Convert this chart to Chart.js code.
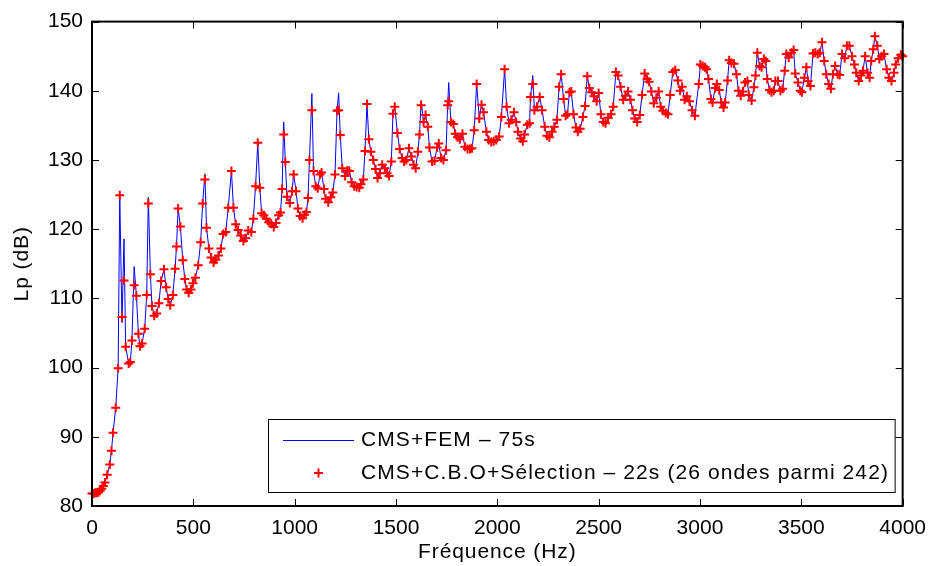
<!DOCTYPE html>
<html>
<head>
<meta charset="utf-8">
<script src="https://cdn.jsdelivr.net/npm/chart.js@4.4.0/dist/chart.umd.min.js"></script>
<style>
  html, body { margin: 0; padding: 0; background: #fff; }
</style>
</head>
<body>
<canvas id="lpChart" width="936" height="566"></canvas>
<script>
// frequencies (Hz) of the computed points
const freqHz = [
  0, 8, 16, 24, 32, 40, 48, 56, 64, 75, 88, 96, 104, 117, 129,
  137, 148, 158, 166, 181, 189, 197, 208, 219, 229, 237, 247, 260, 270,
  278, 288, 296, 307, 319, 330, 341, 355, 366, 376, 386, 399,
  410, 417, 425, 436, 448, 458, 467, 477, 488, 498, 510, 524, 536, 546,
  557, 565, 577, 588, 600, 611, 624, 636, 647, 660, 672, 688,
  698, 709, 721, 734, 747, 758, 771, 786, 796, 807, 818,
  828, 837, 848, 860, 872, 884, 897, 908, 921, 930, 938, 946,
  954, 962, 976, 987, 995, 1007, 1016, 1027, 1039, 1049, 1058, 1066, 1073, 1085,
  1093, 1104, 1114, 1125, 1133, 1145, 1153, 1166, 1178, 1188, 1199, 1209, 1217,
  1225, 1235, 1249, 1260, 1270, 1281, 1294, 1306, 1319, 1327, 1339, 1347, 1357,
  1366, 1376, 1388, 1399, 1409, 1420, 1432, 1445, 1456, 1466, 1477, 1485, 1494,
  1507, 1518, 1530, 1540, 1551, 1564, 1576, 1587, 1597, 1608, 1616, 1624,
  1636, 1646, 1657, 1665, 1678, 1690, 1703, 1711, 1722, 1734, 1747, 1755, 1760,
  1771, 1783, 1792, 1804, 1815, 1828, 1840, 1853, 1865, 1875, 1886, 1898,
  1911, 1922, 1932, 1946, 1957, 1970, 1982, 1995, 2009, 2020, 2036,
  2046, 2058, 2069, 2082, 2093, 2102, 2115, 2126, 2134, 2148, 2159, 2164, 2175,
  2183, 2196, 2209, 2221, 2234, 2245, 2257, 2270, 2281, 2294, 2305, 2315,
  2327, 2337, 2346, 2356, 2365, 2376, 2388, 2397, 2409, 2422, 2433, 2444,
  2454, 2466, 2477, 2490, 2500, 2511, 2523, 2534, 2547, 2561, 2572, 2585,
  2596, 2608, 2621, 2632, 2645, 2657, 2667, 2678, 2690, 2703, 2714, 2727,
  2739, 2749, 2760, 2772, 2785, 2796, 2806, 2817, 2831, 2842, 2853, 2866, 2878,
  2891, 2902, 2912, 2924, 2935, 2948, 2961, 2975, 2994, 3002,
  3013, 3025, 3033, 3042, 3054, 3062, 3075, 3083, 3095, 3105, 3116, 3124, 3136, 3144,
  3155, 3168, 3180, 3190, 3201, 3212, 3222, 3234, 3241, 3255, 3266, 3274, 3283,
  3294, 3304, 3315, 3324, 3332, 3343, 3353, 3364, 3372, 3385, 3397, 3408, 3418, 3426,
  3438, 3451, 3462, 3470, 3484, 3495, 3503, 3515, 3525, 3533, 3545, 3558, 3569,
  3581, 3591, 3602, 3613, 3623, 3635, 3646, 3656, 3667, 3679, 3689, 3701, 3714,
  3725, 3737, 3750, 3762, 3771, 3783, 3794, 3804, 3815, 3827, 3837, 3845, 3855,
  3863, 3875, 3885, 3896, 3908, 3921, 3932, 3945, 3957, 3966, 3978, 3991, 4000
];

// Lp (dB), CMS+C.B.O+Sélection (red crosses)
const lpCbo = [
  81.8, 81.8, 81.9, 81.9, 82.0, 82.2, 82.5, 82.9, 83.4, 84.5, 86.0, 88.0, 90.6, 94.2, 99.9,
  124.9, 107.3, 112.6, 103.0, 100.6, 100.8, 103.9, 111.9, 110.4, 104.9, 103.1, 103.5, 105.6, 110.5,
  123.7, 113.5, 108.9, 107.5, 107.8, 109.3, 112.5, 114.2, 111.6, 109.9, 109.0, 110.5,
  114.3, 117.5, 123.0, 120.4, 115.5, 112.8, 111.3, 110.8, 111.3, 112.2, 113.0, 114.8, 118.1, 123.7,
  127.2, 120.2, 117.2, 115.9, 115.2, 115.6, 116.2, 117.2, 119.3, 119.6, 123.1, 128.4,
  123.1, 120.7, 119.9, 119.1, 118.3, 118.7, 119.8, 119.6, 121.5, 126.2, 132.5,
  126.0, 122.3, 122.0, 121.5, 121.0, 120.8, 120.3, 120.9, 122.0, 122.4, 125.8, 133.7,
  129.7, 124.7, 123.8, 125.5, 127.9, 125.5, 123.0, 121.9, 121.6, 122.1, 122.5, 124.5, 130.0, 137.2,
  128.4, 126.2, 125.9, 127.9, 128.2, 125.8, 124.4, 123.9, 124.6, 125.3, 127.9, 137.1, 137.2,
  133.6, 128.8, 127.7, 128.5, 128.4, 126.8, 126.2, 126.1, 126.0, 126.5, 127.2, 131.3, 138.1,
  133.0, 131.2, 130.0, 128.7, 127.4, 128.1, 129.3, 128.8, 128.1, 127.7, 129.8, 136.7, 137.7,
  133.9, 131.6, 130.3, 129.8, 130.0, 131.7, 130.5, 129.3, 128.8, 131.2, 133.7, 137.9,
  135.5, 136.5, 134.8, 131.8, 129.8, 129.9, 131.8, 132.4, 130.3, 130.0, 131.4, 137.9, 138.5,
  135.5, 135.2, 133.8, 133.3, 133.0, 133.8, 131.9, 131.6, 131.6, 131.7, 134.3, 141.0,
  136.0, 138.0, 136.9, 134.1, 132.9, 132.6, 132.7, 132.9, 133.4, 136.2, 143.1,
  137.7, 135.3, 135.8, 136.9, 135.5, 134.1, 133.1, 132.7, 133.7, 135.1, 135.3, 139.1, 141.0,
  137.2, 137.7, 139.1, 137.2, 134.8, 133.5, 133.3, 134.1, 134.8, 135.8, 140.6, 142.4,
  138.8, 136.4, 136.6, 139.8, 139.9, 136.6, 134.7, 134.1, 134.5, 136.2, 137.8, 142.1,
  140.4, 139.8, 139.2, 138.5, 139.7, 136.6, 135.5, 135.3, 136.1, 136.6, 137.7, 142.7,
  142.2, 140.6, 138.7, 139.3, 139.9, 138.7, 137.2, 136.0, 135.5, 136.5, 139.4, 142.5,
  141.7, 141.3, 139.9, 138.2, 139.0, 139.9, 137.7, 137.1, 136.8, 136.6, 139.4, 142.7, 143.0,
  141.5, 140.0, 140.6, 138.7, 139.2, 138.5, 137.2, 136.4, 141.0, 143.8,
  143.6, 143.4, 143.1, 141.7, 138.8, 138.3, 140.4, 141.0, 140.1, 138.3, 137.6, 138.3, 141.5, 144.4,
  144.0, 143.9, 142.4, 140.0, 139.3, 139.9, 141.2, 141.4, 139.4, 138.6, 140.5, 142.2, 145.5,
  143.6, 143.4, 144.6, 144.3, 141.7, 140.1, 139.8, 140.0, 141.4, 141.4, 140.0, 140.3, 142.9, 145.3,
  144.8, 145.5, 145.9, 142.5, 141.2, 140.0, 139.8, 141.9, 143.4, 141.4, 140.7, 145.4, 145.5,
  145.3, 145.5, 147.0, 144.3, 142.4, 141.0, 140.3, 142.4, 143.6, 142.4, 142.3, 145.3, 144.7,
  146.5, 146.5, 145.0, 143.8, 142.6, 141.4, 142.2, 142.9, 145.0, 142.6, 141.9, 144.3, 146.0,
  147.9, 146.5, 144.6, 145.0, 145.3, 143.1, 141.9, 141.4, 142.6, 143.8, 144.7, 145.2, 145.0
];

// CMS+FEM (blue line) follows the crosses except at these sharper peaks
const femPeakFreq = [148, 158, 208, 278, 557, 946, 1085, 1217, 1624, 1760, 2175];
const femPeakLp = [106.5, 118.6, 114.6, 124.6, 128.0, 135.5, 139.6, 139.7, 138.6, 141.2, 142.2];

const seriesLabels = ['CMS+FEM – 75s', 'CMS+C.B.O+Sélection – 22s (26 ondes parmi 242)'];
const xTitle = 'Fréquence (Hz)';
const yTitle = 'Lp (dB)';

const fontFamily = '"Liberation Sans", Arial, sans-serif';
Chart.defaults.color = '#000';
Chart.defaults.font.family = fontFamily;
Chart.defaults.font.size = 21;

const cboPoints = freqHz.map((f, i) => ({ x: f, y: lpCbo[i] }));
const femPoints = cboPoints.map((p) => {
    const k = femPeakFreq.indexOf(p.x);
    return k >= 0 ? { x: p.x, y: femPeakLp[k] } : p;
});

// matlab-like box with inward ticks, axis titles and the legend
const matlabAxes = {
    id: 'matlabAxes',
    afterDraw(chart) {
        const { ctx, chartArea: a, scales } = chart;
        const x = scales.x;
        const y = scales.y;
        ctx.save();
        ctx.strokeStyle = '#000';
        ctx.lineWidth = 1;
        ctx.beginPath();
        x.ticks.forEach((t) => {
            const px = Math.round(x.getPixelForValue(t.value)) + 0.5;
            ctx.moveTo(px, a.bottom);
            ctx.lineTo(px, a.bottom - 7);
            ctx.moveTo(px, a.top);
            ctx.lineTo(px, a.top + 7);
        });
        y.ticks.forEach((t) => {
            const py = Math.round(y.getPixelForValue(t.value)) + 0.5;
            ctx.moveTo(a.left, py);
            ctx.lineTo(a.left + 7, py);
            ctx.moveTo(a.right, py);
            ctx.lineTo(a.right - 7, py);
        });
        ctx.stroke();
        ctx.lineWidth = 2;
        ctx.strokeRect(a.left, a.top, a.right - a.left, a.bottom - a.top);

        // axis titles
        ctx.fillStyle = '#000';
        ctx.font = '21px ' + fontFamily;
        ctx.letterSpacing = '0.9px';
        ctx.textAlign = 'center';
        ctx.textBaseline = 'middle';
        ctx.fillText(xTitle, (a.left + a.right) / 2, 552);
        ctx.save();
        ctx.translate(22, (a.top + a.bottom) / 2);
        ctx.rotate(-Math.PI / 2);
        ctx.fillText(yTitle, 0, 0);
        ctx.restore();

        // legend
        const right = a.right - 8;
        const bottom = a.bottom - 14;
        const left = 268;
        const top = 419;
        ctx.fillStyle = '#fff';
        ctx.fillRect(left, top, right - left, bottom - top);
        ctx.lineWidth = 1;
        ctx.strokeRect(left + 0.5, top + 0.5, right - left, bottom - top);

        const row1 = top + 21;
        const row2 = top + 54;
        ctx.strokeStyle = '#0000ff';
        ctx.beginPath();
        ctx.moveTo(283, row1 + 0.5);
        ctx.lineTo(354, row1 + 0.5);
        ctx.stroke();

        ctx.strokeStyle = '#ff0000';
        ctx.lineWidth = 2;
        ctx.beginPath();
        ctx.moveTo(314, row2);
        ctx.lineTo(323, row2);
        ctx.moveTo(318.5, row2 - 4.5);
        ctx.lineTo(318.5, row2 + 4.5);
        ctx.stroke();

        ctx.fillStyle = '#000';
        ctx.letterSpacing = '1.1px';
        ctx.textAlign = 'left';
        ctx.fillText(seriesLabels[0], 361, row1);
        ctx.fillText(seriesLabels[1], 361, row2);
        ctx.restore();
    },
};

new Chart(document.getElementById('lpChart'), {
    type: 'scatter',
    data: {
        datasets: [
            {
                label: seriesLabels[1],
                data: cboPoints,
                showLine: false,
                pointStyle: 'cross',
                pointRadius: 4.5,
                pointBorderWidth: 2,
                borderColor: '#ff0000',
                backgroundColor: '#ff0000',
                clip: false,
                order: 0,
            },
            {
                label: seriesLabels[0],
                data: femPoints,
                showLine: true,
                borderColor: '#0000ff',
                borderWidth: 1,
                pointRadius: 0,
                tension: 0,
                order: 1,
            },
        ],
    },
    options: {
        responsive: false,
        animation: false,
        devicePixelRatio: 1,
        layout: { padding: { top: 19, right: 30, left: 0, bottom: 0 } },
        plugins: {
            legend: { display: false },
            tooltip: { enabled: false },
        },
        scales: {
            x: {
                type: 'linear',
                min: 0,
                max: 4000,
                grid: { display: false, drawTicks: false },
                border: { display: false },
                ticks: { stepSize: 500, padding: 10, maxRotation: 0, callback: (v) => String(v) },
                afterFit: (scale) => { scale.height = 60; },
            },
            y: {
                min: 80,
                max: 150,
                grid: { display: false, drawTicks: false },
                border: { display: false },
                ticks: { stepSize: 10, padding: 9, callback: (v) => String(v) },
                afterFit: (scale) => { scale.width = 92; },
            },
        },
    },
    plugins: [matlabAxes],
});
</script>
</body>
</html>
